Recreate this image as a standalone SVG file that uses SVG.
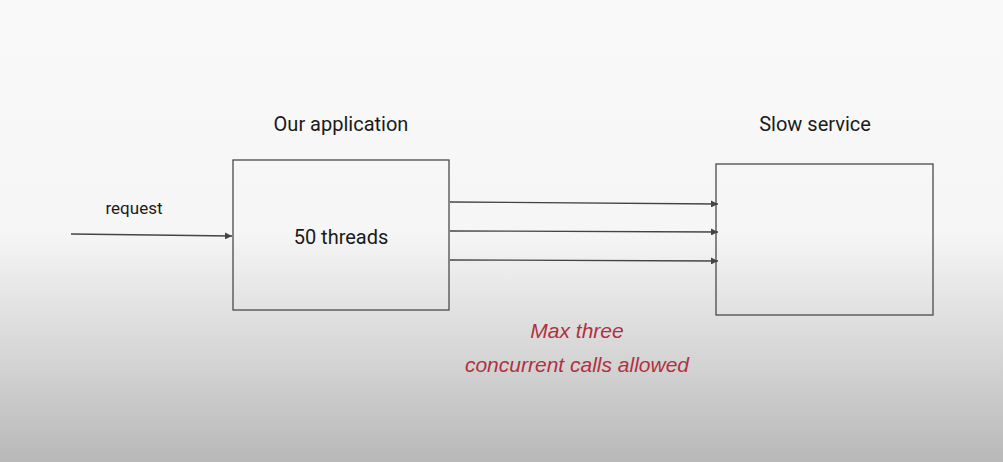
<svg xmlns="http://www.w3.org/2000/svg" width="1003" height="462" viewBox="0 0 1003 462">
<style>
.box{fill:none;stroke:#4a4a4a;stroke-width:1.3}
.lbl{font-family:Roboto,"Liberation Sans",sans-serif;fill:#1a1a1a;text-anchor:middle}
.conn line{stroke:#444;stroke-width:1.3}
.note{font-family:"Liberation Sans",sans-serif;font-style:italic;fill:#b0323f;text-anchor:middle;font-size:21px}
</style>
<defs>
<linearGradient id="bg" x1="0" y1="0" x2="0" y2="1">
<stop offset="0" stop-color="#f9f9f9"/>
<stop offset="0.5" stop-color="#f6f6f6"/>
<stop offset="0.75" stop-color="#d8d8d8"/>
<stop offset="1" stop-color="#b8b8b8"/>
</linearGradient>
<marker id="arr" viewBox="0 0 10 10" refX="10" refY="5" markerWidth="7" markerHeight="7" markerUnits="userSpaceOnUse" orient="auto">
<path d="M0,0 L10,5 L0,10 z" fill="#444"/>
</marker>
</defs>
<rect width="1003" height="462" fill="url(#bg)"/>
<g id="app">
<rect class="box" x="233" y="160" width="216" height="150"/>
<text class="lbl" x="341" y="131" font-size="20">Our application</text>
<text class="lbl" x="341" y="244" font-size="20">50 threads</text>
</g>
<g id="slow">
<rect class="box" x="716" y="164" width="217" height="151"/>
<text class="lbl" x="815" y="131" font-size="20">Slow service</text>
</g>
<g id="request-label">
<text class="lbl" x="134" y="214" font-size="17">request</text>
</g>
<g class="conn" id="connectors">
<line x1="71" y1="234" x2="232" y2="236" marker-end="url(#arr)"/>
<line x1="450" y1="202" x2="718" y2="204" marker-end="url(#arr)"/>
<line x1="450" y1="231" x2="718" y2="232" marker-end="url(#arr)"/>
<line x1="450" y1="260" x2="718" y2="261" marker-end="url(#arr)"/>
</g>
<g id="note">
<text class="note" x="577" y="338">Max three</text>
<text class="note" x="577" y="372">concurrent calls allowed</text>
</g>
</svg>
